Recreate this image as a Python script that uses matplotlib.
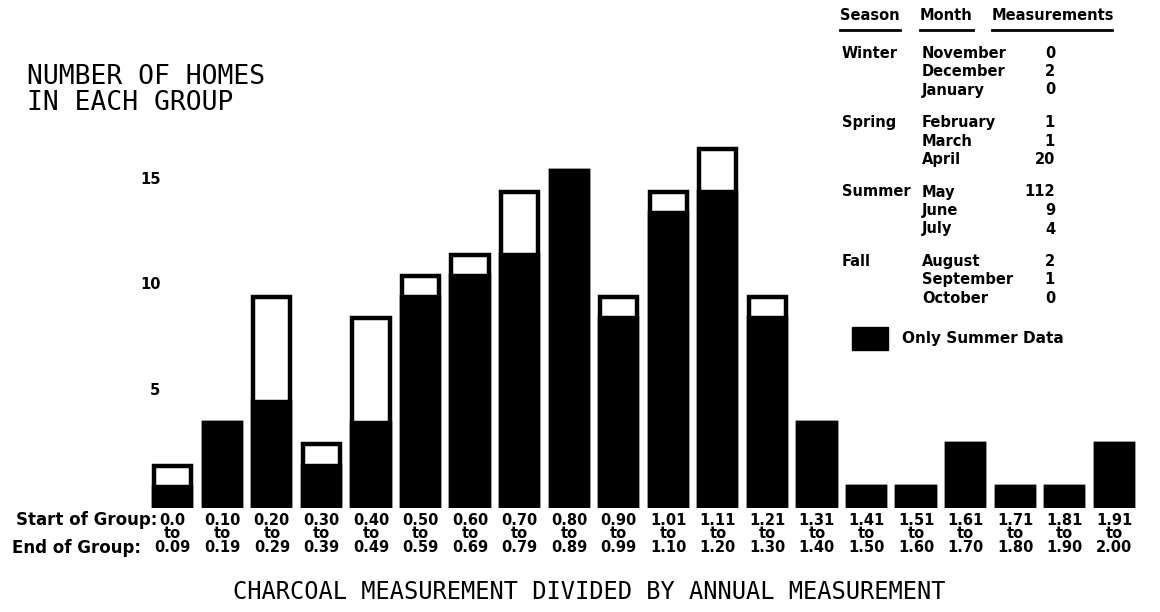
import matplotlib
matplotlib.use("Agg")
import matplotlib.pyplot as plt
from matplotlib.patches import Rectangle
from matplotlib.lines import Line2D
from matplotlib.transforms import offset_copy

# Group boundaries (ratio of charcoal to annual measurement)
group_start = ["0.0", "0.10", "0.20", "0.30", "0.40", "0.50", "0.60", "0.70", "0.80", "0.90",
               "1.01", "1.11", "1.21", "1.31", "1.41", "1.51", "1.61", "1.71", "1.81", "1.91"]
group_end = ["0.09", "0.19", "0.29", "0.39", "0.49", "0.59", "0.69", "0.79", "0.89", "0.99",
             "1.10", "1.20", "1.30", "1.40", "1.50", "1.60", "1.70", "1.80", "1.90", "2.00"]

# Number of homes in each group: all seasons, and summer-only measurements
homes_all = [2, 4, 10, 3, 9, 11, 12, 15, 16, 10, 15, 17, 10, 4, 1, 1, 3, 1, 1, 3]
homes_summer = [1, 4, 5, 2, 4, 10, 11, 12, 16, 9, 14, 15, 9, 4, 1, 1, 3, 1, 1, 3]

y_ticks = [5, 10, 15]

# Measurement count per month
seasons = ["Winter", "Spring", "Summer", "Fall"]
months = [["November", "December", "January"],
          ["February", "March", "April"],
          ["May", "June", "July"],
          ["August", "September", "October"]]
month_counts = [[0, 2, 0], [1, 1, 20], [112, 9, 4], [2, 1, 0]]

W, H = 1160, 612
fig = plt.figure(figsize=(W / 100, H / 100), dpi=100)
fig.patch.set_facecolor("white")


def fx(px):
    return px / W


def fy(py):
    return 1 - py / H


BOLD = dict(family="DejaVu Sans", fontweight="bold")
MONO = dict(family="DejaVu Sans Mono")

ax = fig.add_axes([fx(148), fy(507.7), fx(1139) - fx(148), fy(128.4) - fy(507.7)])
x = list(range(len(homes_all)))
ax.bar(x, homes_all, width=0.75, color="white", edgecolor="black", linewidth=3.2, zorder=2)
ax.bar(x, homes_summer, width=0.75, color="black", edgecolor="black", linewidth=3.2, zorder=3)
ax.set_xlim(-0.5, len(x) - 0.5)
ax.set_ylim(0, 18)
ax.axis("off")

# y tick labels
tick_tr = offset_copy(ax.transData, fig=fig, x=0, y=12, units="dots")
for t in y_ticks:
    ax.text(-0.45 if t >= 10 else -0.35, t, str(t), transform=tick_tr,
            ha="center", va="center", fontsize=10.5, clip_on=False, **BOLD)

# group labels beneath bars
for xi, s, e in zip(x, group_start, group_end):
    for txt, dy in ((s, -13), ("to", -26), (e, -40)):
        ax.text(xi, 0, txt,
                transform=offset_copy(ax.transData, fig=fig, x=0, y=dy, units="dots"),
                ha="center", va="center", fontsize=10.5, clip_on=False, **BOLD)

fig.text(fx(157), fy(520), "Start of Group:", ha="right", va="center", fontsize=12, **BOLD)
fig.text(fx(141), fy(548), "End of Group:", ha="right", va="center", fontsize=12, **BOLD)

# titles
fig.text(fx(27), fy(77), "NUMBER OF HOMES", ha="left", va="center", fontsize=19, **MONO)
fig.text(fx(27), fy(103), "IN EACH GROUP", ha="left", va="center", fontsize=19, **MONO)
fig.text(fx(589), fy(592), "CHARCOAL MEASUREMENT DIVIDED BY ANNUAL MEASUREMENT",
         ha="center", va="center", fontsize=17, **MONO)

# measurement table
TBL = 10.5
hdr_y = 15
headers = [("Season", 840, 900), ("Month", 920, 973), ("Measurements", 992, 1112)]
for txt, x0, x1 in headers:
    fig.text(fx(x0), fy(hdr_y), txt, ha="left", va="center", fontsize=TBL, **BOLD)
    fig.add_artist(Line2D([fx(x0), fx(x1)], [fy(30), fy(30)], color="black", linewidth=2))

row_y = 53
for season, mlist, clist in zip(seasons, months, month_counts):
    fig.text(fx(842), fy(row_y), season, ha="left", va="center", fontsize=TBL, **BOLD)
    for m, c in zip(mlist, clist):
        fig.text(fx(922), fy(row_y), m, ha="left", va="center", fontsize=TBL, **BOLD)
        fig.text(fx(1055), fy(row_y), str(c), ha="right", va="center", fontsize=TBL, **BOLD)
        row_y += 18.5
    row_y += 14

# legend
fig.add_artist(Rectangle((fx(852), fy(350)), fx(888) - fx(852), fy(327) - fy(350),
                         facecolor="black", edgecolor="black", transform=fig.transFigure))
fig.text(fx(902), fy(338), "Only Summer Data", ha="left", va="center", fontsize=11, **BOLD)

fig.savefig("out.png", dpi=100, facecolor="white")
